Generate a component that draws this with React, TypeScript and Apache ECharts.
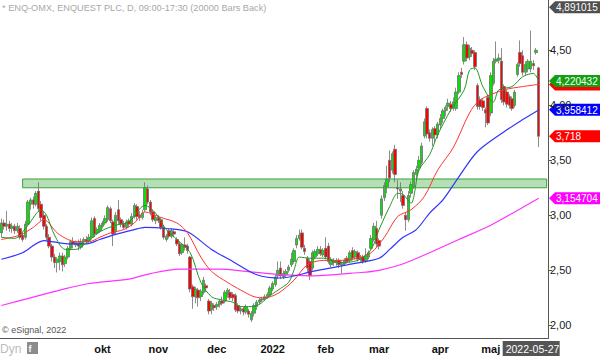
import React, { useEffect, useRef } from "react";
import * as echarts from "echarts";

// ---- categories ----
const HOLIDAYS = ["2021-12-24", "2021-12-31", "2022-01-06", "2022-04-15", "2022-04-18", "2022-05-26"];
const MONTH_LABELS = ["2022", "feb", "mar", "apr", "maj", "jun", "jul", "aug", "", "okt", "nov", "dec"];
const Y_TICKS = [2, 2.5, 3, 3.5, 4, 4.5];
const PAD_BARS = 3;

// ---- OHLC (daily) ----
const open = [
  2.84, 2.93, 2.90, 2.92, 2.88, 2.90, 2.86, 2.88, 2.82, 2.80, 2.92, 3.10, 3.14, 3.10, 3.22, 3.10,
  3.00, 2.90, 2.80, 2.72, 2.62, 2.57, 2.58, 2.63, 2.56, 2.62, 2.70, 2.76, 2.73, 2.74, 2.71, 2.76, 2.78, 2.77, 2.80, 2.97, 2.84, 2.86,
  2.90, 2.93, 2.96, 3.06, 2.94, 2.85, 3.05, 2.96, 2.92, 2.89, 2.95, 2.92, 2.99, 3.08, 3.00, 2.98, 3.05, 3.24, 3.12, 3.03, 2.95,
  2.98, 2.96, 2.89, 2.78, 2.86, 2.81, 2.85, 2.78, 2.74, 2.66, 2.73, 2.72, 2.62, 2.35, 2.26, 2.32, 2.26, 2.30, 2.36, 2.22, 2.14, 2.18,
  2.17, 2.19, 2.22, 2.22, 2.28, 2.30, 2.28, 2.27, 2.18, 2.13, 2.15, 2.12, 2.13, 2.05, 2.11, 2.17, 2.21, 2.23, 2.24, 2.26, 2.28,
  2.33, 2.37, 2.45, 2.52, 2.44, 2.46, 2.50, 2.55, 2.58, 2.73, 2.79, 2.84, 2.70, 2.61, 2.58, 2.52, 2.62, 2.65, 2.69, 2.64,
  2.70, 2.72, 2.55, 2.58, 2.57, 2.59, 2.55, 2.56, 2.61, 2.59, 2.68, 2.62, 2.66, 2.60, 2.62, 2.59, 2.62, 2.70, 2.78, 2.88,
  2.77, 3.00, 3.16, 3.26, 3.50, 3.41, 3.60, 3.25, 3.22, 3.18, 3.00, 2.96, 3.20, 3.26, 3.37, 3.43, 3.48, 3.72, 3.97, 3.75, 3.70, 3.79, 3.73,
  3.82, 3.88, 3.95, 3.99, 4.01, 3.98, 3.97, 4.12, 4.30, 4.40, 4.55, 4.44, 4.50, 4.48, 4.18, 4.05, 4.04, 3.96, 4.07,
  3.93, 4.20, 4.40, 4.41, 4.40, 4.17, 4.12, 4.08, 4.06, 4.00, 4.28, 4.48, 4.45, 4.30, 4.33, 4.33, 4.38, 4.48, 4.34,
];
const close = [
  2.93, 2.90, 2.92, 2.88, 2.90, 2.86, 2.90, 2.80, 2.78, 2.92, 3.12, 3.14, 3.10, 3.20, 3.06, 2.98,
  2.90, 2.80, 2.72, 2.62, 2.57, 2.60, 2.63, 2.55, 2.62, 2.70, 2.76, 2.74, 2.75, 2.72, 2.76, 2.78, 2.76, 2.80, 2.95, 2.83, 2.87, 2.91,
  2.93, 2.97, 3.07, 2.95, 2.83, 3.00, 2.95, 2.92, 2.89, 2.94, 2.92, 2.99, 3.09, 2.99, 2.98, 3.02, 3.25, 3.12, 3.03, 2.96, 2.98,
  2.95, 2.89, 2.80, 2.81, 2.81, 2.86, 2.83, 2.74, 2.65, 2.73, 2.71, 2.68, 2.33, 2.26, 2.33, 2.25, 2.31, 2.41, 2.34, 2.13, 2.20, 2.16,
  2.19, 2.22, 2.20, 2.30, 2.32, 2.25, 2.25, 2.14, 2.13, 2.15, 2.12, 2.17, 2.10, 2.11, 2.18, 2.21, 2.23, 2.24, 2.26, 2.28, 2.34,
  2.38, 2.44, 2.50, 2.45, 2.47, 2.49, 2.53, 2.60, 2.68, 2.79, 2.82, 2.71, 2.67, 2.52, 2.45, 2.66, 2.67, 2.69, 2.65, 2.68,
  2.62, 2.58, 2.60, 2.57, 2.59, 2.55, 2.56, 2.59, 2.58, 2.66, 2.61, 2.67, 2.60, 2.62, 2.58, 2.63, 2.66, 2.79, 2.90, 2.74,
  2.72, 3.15, 3.27, 3.33, 3.34, 3.56, 3.37, 3.24, 3.24, 3.09, 2.96, 3.18, 3.28, 3.39, 3.42, 3.50, 3.63, 3.85, 3.74, 3.70, 3.78, 3.73, 3.83,
  3.88, 3.95, 3.98, 4.02, 3.97, 4.03, 4.12, 4.27, 4.28, 4.55, 4.43, 4.52, 4.47, 4.35, 3.99, 3.99, 3.98, 3.93, 3.84,
  4.27, 4.40, 4.42, 4.43, 4.05, 4.03, 4.01, 4.00, 3.97, 4.12, 4.37, 4.38, 4.30, 4.37, 4.40, 4.40, 4.36, 4.50, 3.718,
];
const low = [
  2.80, 2.87, 2.86, 2.85, 2.84, 2.83, 2.84, 2.78, 2.76, 2.78, 2.90, 3.05, 3.06, 3.08, 3.03, 2.95,
  2.87, 2.77, 2.70, 2.58, 2.52, 2.48, 2.50, 2.49, 2.53, 2.60, 2.68, 2.70, 2.71, 2.68, 2.69, 2.73, 2.74, 2.75, 2.78, 2.80, 2.82, 2.84,
  2.88, 2.91, 2.94, 2.93, 2.72, 2.83, 2.92, 2.89, 2.87, 2.87, 2.89, 2.90, 2.97, 2.96, 2.95, 2.96, 3.03, 3.10, 3.00, 2.94, 2.92,
  2.93, 2.87, 2.78, 2.76, 2.79, 2.79, 2.80, 2.72, 2.63, 2.64, 2.68, 2.65, 2.30, 2.15, 2.20, 2.17, 2.22, 2.28, 2.30, 2.10, 2.10, 2.13,
  2.14, 2.16, 2.18, 2.20, 2.25, 2.23, 2.22, 2.12, 2.11, 2.10, 2.09, 2.10, 2.07, 2.03, 2.08, 2.14, 2.19, 2.21, 2.22, 2.24, 2.26,
  2.31, 2.35, 2.42, 2.42, 2.42, 2.44, 2.48, 2.53, 2.56, 2.70, 2.77, 2.69, 2.64, 2.48, 2.41, 2.50, 2.60, 2.63, 2.63, 2.62,
  2.60, 2.56, 2.53, 2.54, 2.54, 2.52, 2.47, 2.54, 2.56, 2.57, 2.59, 2.60, 2.58, 2.58, 2.56, 2.57, 2.60, 2.68, 2.76, 2.71,
  2.69, 2.97, 3.13, 3.20, 3.30, 3.38, 3.30, 3.15, 3.12, 3.06, 2.86, 2.94, 3.16, 3.24, 3.32, 3.40, 3.46, 3.70, 3.70, 3.67, 3.63, 3.66, 3.70,
  3.78, 3.84, 3.90, 3.95, 3.94, 3.95, 3.95, 4.10, 4.25, 4.37, 4.40, 4.41, 4.44, 4.32, 3.96, 3.96, 3.95, 3.80, 3.82,
  3.90, 4.18, 4.38, 4.38, 4.02, 4.00, 3.98, 3.97, 3.95, 3.98, 4.26, 4.35, 4.27, 4.27, 4.30, 4.30, 4.32, 4.46, 3.62,
];
const high = [
  2.97, 2.96, 3.04, 2.95, 2.93, 2.92, 2.93, 2.91, 2.85, 2.95, 3.14, 3.16, 3.17, 3.22, 3.30, 3.13,
  3.03, 2.92, 2.83, 2.74, 2.65, 2.62, 2.66, 2.66, 2.64, 2.72, 2.78, 2.80, 2.77, 2.78, 2.79, 2.80, 2.81, 2.83, 2.98, 2.99, 2.89, 2.93,
  2.95, 3.00, 3.09, 3.08, 2.96, 3.03, 3.14, 2.98, 2.95, 2.96, 2.97, 3.02, 3.11, 3.10, 3.04, 3.05, 3.30, 3.27, 3.14, 3.05, 3.00,
  3.00, 2.98, 2.91, 2.83, 2.88, 2.88, 2.87, 2.80, 2.76, 2.75, 2.80, 2.74, 2.63, 2.37, 2.35, 2.34, 2.33, 2.44, 2.38, 2.24, 2.22, 2.20,
  2.21, 2.24, 2.26, 2.32, 2.34, 2.33, 2.30, 2.29, 2.20, 2.17, 2.17, 2.19, 2.15, 2.13, 2.20, 2.23, 2.25, 2.26, 2.28, 2.30, 2.36,
  2.40, 2.46, 2.58, 2.58, 2.50, 2.51, 2.55, 2.66, 2.70, 2.82, 2.87, 2.87, 2.73, 2.63, 2.60, 2.68, 2.69, 2.72, 2.72, 2.70,
  2.80, 2.75, 2.62, 2.61, 2.61, 2.61, 2.58, 2.61, 2.63, 2.68, 2.71, 2.69, 2.68, 2.64, 2.64, 2.70, 2.68, 2.82, 2.93, 2.95,
  2.79, 3.18, 3.30, 3.45, 3.59, 3.58, 3.64, 3.32, 3.30, 3.22, 3.03, 3.22, 3.31, 3.41, 3.45, 3.54, 3.66, 3.88, 3.99, 3.78, 3.80, 3.81, 3.85,
  3.92, 3.97, 4.00, 4.06, 4.04, 4.07, 4.16, 4.30, 4.34, 4.62, 4.58, 4.55, 4.53, 4.50, 4.20, 4.08, 4.06, 3.98, 4.10,
  4.30, 4.43, 4.58, 4.47, 4.52, 4.19, 4.14, 4.10, 4.08, 4.14, 4.39, 4.59, 4.50, 4.40, 4.42, 4.68, 4.41, 4.52, 4.35,
];

// ---- moving averages, read at sample bars [barIndex, value] ----
const maGreen = [
  [0, 2.80], [5, 2.79], [10, 2.91], [15, 3.05], [17, 3.0], [20, 2.82], [24, 2.69], [28, 2.69], [31, 2.73], [37, 2.85],
  [43, 2.91], [48, 2.94], [54, 3.09], [58, 3.02], [62, 2.87], [66, 2.78], [71, 2.66], [75, 2.39], [79, 2.26], [83, 2.23],
  [87, 2.21], [90, 2.17], [94, 2.17], [97, 2.19], [100, 2.25], [104, 2.32], [108, 2.39], [110, 2.5], [112, 2.62], [116, 2.61],
  [121, 2.61], [127, 2.57], [134, 2.59], [139, 2.69], [142, 2.87], [146, 3.08], [149, 3.2], [151, 3.19], [154, 3.11], [157, 3.41],
  [161, 3.55], [164, 3.73], [169, 3.96], [174, 4.14], [176, 4.32], [178, 4.34], [181, 4.17], [185, 4.03], [187, 4.14], [192, 4.17],
  [196, 4.26], [200, 4.29], [202, 4.22],
];
const maRed = [
  [0, 2.78], [7, 2.82], [12, 2.89], [16, 2.96], [21, 2.84], [25, 2.78], [28, 2.76], [33, 2.76], [37, 2.8], [41, 2.84],
  [46, 2.87], [50, 2.93], [54, 3.03], [60, 2.98], [66, 2.93], [70, 2.84], [75, 2.62], [79, 2.49], [85, 2.39], [90, 2.32],
  [95, 2.26], [99, 2.25], [104, 2.29], [110, 2.41], [115, 2.55], [121, 2.59], [127, 2.59], [134, 2.61], [139, 2.66], [144, 2.8],
  [149, 2.99], [154, 3.05], [159, 3.17], [164, 3.41], [170, 3.62], [176, 3.93], [180, 4.05], [189, 4.14], [196, 4.17], [202, 4.19],
];
const maBlue = [
  [0, 2.6], [8, 2.66], [16, 2.77], [25, 2.74], [32, 2.74], [37, 2.78], [42, 2.82], [50, 2.87], [54, 2.89], [62, 2.88],
  [70, 2.85], [79, 2.69], [87, 2.58], [96, 2.46], [105, 2.43], [117, 2.49], [130, 2.55], [142, 2.61], [146, 2.69], [151, 2.8],
  [156, 2.87], [161, 3.02], [166, 3.14], [172, 3.35], [179, 3.58], [189, 3.76], [196, 3.87], [202, 3.958],
];
const maMagenta = [
  [0, 2.18], [11, 2.25], [22, 2.32], [33, 2.38], [48, 2.42], [56, 2.47], [67, 2.51], [82, 2.51], [92, 2.49], [105, 2.46],
  [117, 2.45], [135, 2.48], [142, 2.5], [150, 2.55], [161, 2.66], [172, 2.78], [184, 2.91], [193, 3.03], [202, 3.1547],
];

// ---- band & price tags ----
const BAND = [3.25, 3.33];
const TAGS = [
  { value: 4.891015, label: "4,891015", color: "#505050" },
  { value: 4.19, label: "", color: "#ff0000" },
  { value: 4.220432, label: "4,220432", color: "#10a010" },
  { value: 3.958412, label: "3,958412", color: "#0000ff" },
  { value: 3.718, label: "3,718", color: "#ff0000" },
  { value: 3.154704, label: "3,154704", color: "#ff00ff" },
];
const TITLE = "* ENQ-OMX, ENQUEST PLC, D, 09:00-17:30 (20000 Bars Back)";
const COPYRIGHT = "© eSignal, 2022";
const LAST_DATE = "2022-05-27";

function buildDays(): string[] {
  const out: string[] = [];
  const d = new Date(Date.UTC(2021, 7, 10));
  const end = Date.UTC(2022, 4, 27);
  while (d.getTime() <= end) {
    const wd = d.getUTCDay();
    const s = d.toISOString().slice(0, 10);
    if (wd !== 0 && wd !== 6 && !HOLIDAYS.includes(s)) out.push(s);
    d.setUTCDate(d.getUTCDate() + 1);
  }
  return out;
}

export default function App() {
  const ref = useRef<HTMLDivElement>(null);
  useEffect(() => {
    if (!ref.current) return;
    const chart = echarts.init(ref.current, null, { renderer: "svg" });
    const days = buildDays();
    const cats = [...days];
    for (let i = 0; i < PAD_BARS; i++) cats.push(" ".repeat(i + 1));
    const starts = new Set<number>();
    for (let i = 1; i < days.length; i++) {
      if (days[i].slice(0, 7) !== days[i - 1].slice(0, 7)) starts.add(i);
    }
    const ohlc = days.map((_, i) => [open[i], close[i], low[i], high[i]]);
    const line = (data: number[][], color: string, w = 1) => ({
      type: "line",
      data,
      showSymbol: false,
      symbol: "none",
      smooth: 0.3,
      silent: true,
      lineStyle: { color, width: w },
      z: 3,
    });
    const option: any = {
      animation: false,
      backgroundColor: "#ffffff",
      grid: { left: 0, right: 52, top: 0, bottom: 17.5 },
      xAxis: {
        type: "category",
        data: cats,
        boundaryGap: true,
        axisLine: { lineStyle: { color: "#555", width: 1 } },
        axisTick: {
          alignWithLabel: true,
          length: 3,
          interval: (i: number) => starts.has(i),
          lineStyle: { color: "#666" },
        },
        axisLabel: {
          interval: (i: number) => starts.has(i),
          formatter: (v: string) => (v.length >= 7 ? MONTH_LABELS[parseInt(v.slice(5, 7), 10) - 1] : ""),
          color: "#111",
          fontFamily: "Arial",
          fontWeight: "bold",
          fontSize: 11,
          margin: 5,
        },
        splitLine: { show: false },
      },
      yAxis: {
        type: "value",
        position: "right",
        min: 1.88,
        max: 4.957,
        scale: true,
        axisLine: { show: true, lineStyle: { color: "#555" } },
        axisTick: { show: true, length: 4, customValues: Y_TICKS, lineStyle: { color: "#555" } },
        axisLabel: {
          customValues: Y_TICKS,
          formatter: (v: number) => v.toFixed(2).replace(".", ","),
          color: "#222",
          fontFamily: "Arial",
          fontSize: 11,
          margin: 2,
        },
        splitLine: { show: false },
      },
      series: [
        {
          type: "candlestick",
          data: ohlc,
          barWidth: 3,
          itemStyle: {
            color: "#00e400",
            color0: "#ff0000",
            borderColor: "#707070",
            borderColor0: "#707070",
            borderWidth: 0.8,
          },
          markArea: {
            silent: true,
            itemStyle: { color: "rgba(60,170,60,0.38)", borderColor: "#3aa03a", borderWidth: 1 },
            data: [[{ xAxis: 8, yAxis: BAND[0] }, { xAxis: cats.length - 1, yAxis: BAND[1] }]],
          },
          z: 2,
        },
        line(maMagenta, "#ff33ff", 1.2),
        line(maBlue, "#3333ff", 1.2),
        line(maRed, "#ff3333", 1),
        line(maGreen, "#229922", 1),
      ],
    };
    chart.setOption(option);

    const py = (v: number) => chart.convertToPixel({ yAxisIndex: 0 }, v) as number;
    const px = (i: number) => chart.convertToPixel({ xAxisIndex: 0 }, i) as number;
    const tagEls = TAGS.map((t) => {
      const y = py(t.value);
      const children: any[] = [
        {
          type: "polygon",
          shape: { points: [[549, y], [555, y - 6], [600, y - 6], [600, y + 6], [555, y + 6]] },
          style: { fill: t.color },
        },
      ];
      if (t.label) {
        children.push({
          type: "text",
          x: 556,
          y: y + 0.5,
          style: { text: t.label, fill: "#ffffff", font: "10px Arial", verticalAlign: "middle" },
        });
      }
      return { type: "group", z: 100, children };
    });
    const lastX = px(days.length - 1);
    chart.setOption({
      graphic: [
        { type: "text", x: 2, y: 8, style: { text: TITLE, fill: "#a8a8a8", font: "9.2px Arial", verticalAlign: "middle" } },
        { type: "text", x: 2, y: 330, style: { text: COPYRIGHT, fill: "#555", font: "9px Arial", verticalAlign: "middle" } },
        { type: "text", x: 0, y: 349, style: { text: "Dyn", fill: "#bbbbbb", font: "12px Arial", verticalAlign: "middle" } },
        { type: "rect", shape: { x: 27, y: 342, width: 11, height: 12 }, style: { fill: "#8c8c8c" } },
        { type: "text", x: 28.5, y: 348.5, style: { text: "f", fill: "#fff", font: "bold 9px Arial", verticalAlign: "middle" } },
        {
          type: "group",
          z: 100,
          children: [
            { type: "rect", shape: { x: lastX - 36, y: 341, width: 57, height: 15 }, style: { fill: "#555555" } },
            {
              type: "text",
              x: lastX - 33,
              y: 348.5,
              style: { text: LAST_DATE, fill: "#ffffff", font: "10.5px Arial", verticalAlign: "middle" },
            },
          ],
        },
        ...tagEls,
      ],
    });
    return () => chart.dispose();
  }, []);
  return (
    <div
      ref={ref}
      style={{ position: "absolute", left: 0, top: 0, width: 600, height: 356, background: "#fff" }}
    />
  );
}
